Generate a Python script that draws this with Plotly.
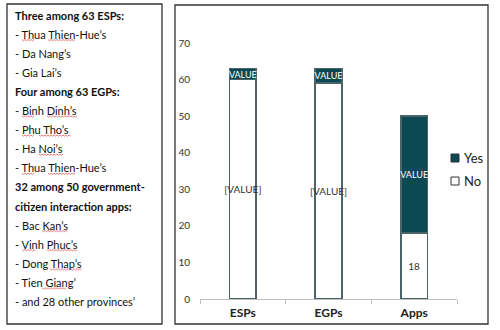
import plotly.graph_objects as go

# Data
categories = ["ESPs", "EGPs", "Apps"]
no_values = [60, 59, 18]
yes_values = [3, 4, 32]
no_labels = ["[VALUE]", "[VALUE]", "18"]
yes_labels = ["VALUE", "VALUE", "VALUE"]
y_ticks = [0, 10, 20, 30, 40, 50, 60, 70]
series_names = ["Yes", "No"]

side_lines = [
    ("Three among 63 ESPs:", True),
    ("- Thua Thien-Hue’s", False),
    ("- Da Nang’s", False),
    ("- Gia Lai’s", False),
    ("Four among 63 EGPs:", True),
    ("- Binh Dinh’s", False),
    ("- Phu Tho’s", False),
    ("- Ha Noi’s", False),
    ("- Thua Thien-Hue’s", False),
    ("32 among 50 government-", True),
    ("citizen interaction apps:", True),
    ("- Bac Kan’s", False),
    ("- Vinh Phuc’s", False),
    ("- Dong Thap’s", False),
    ("- Tien Giang’", False),
    ("- and 28 other provinces’", False),
]

# Spell-check style underlines: (line index, x start px, x end px)
squiggles = [
    (1, 22, 34), (1, 48, 76),
    (5, 22, 35), (5, 47, 77),
    (6, 22, 35), (6, 39, 71),
    (7, 39, 63),
    (8, 22, 34), (8, 48, 76),
    (11, 42, 68),
    (12, 22, 36), (12, 47, 78),
    (13, 50, 82),
    (14, 42, 67),
]

W, H = 500, 330
L, R, T, B = 200, 43, 43, 31
PW, PH = W - L - R, H - T - B

def px(x):
    return (x - L) / PW

def py(y):
    return (H - B - y) / PH

TEAL = "#0b4a54"
EDGE = "#4b6468"
FONT = "Lato, 'Open Sans', sans-serif"
LINE_Y0, LINE_DY = 15, 19.1

fig = go.Figure()
fig.add_trace(go.Bar(
    name="No", x=categories, y=no_values, text=no_labels,
    marker=dict(color="white", line=dict(color=EDGE, width=1.5)),
    textposition="inside", insidetextanchor="middle", textangle=0,
    constraintext="none",
    textfont=dict(color="#333333", size=10), width=0.31,
))
fig.add_trace(go.Bar(
    name="Yes", x=categories, y=yes_values, text=yes_labels,
    marker=dict(color=TEAL, line=dict(color=EDGE, width=1.5)),
    textposition="inside", insidetextanchor="middle", textangle=0,
    constraintext="none",
    textfont=dict(color="white", size=9), width=0.31,
))

fig.update_layout(
    width=W, height=H,
    margin=dict(l=L, r=R, t=T, b=B, autoexpand=False),
    barmode="stack",
    paper_bgcolor="white", plot_bgcolor="white",
    font=dict(family=FONT, color="#333333"),
    showlegend=False,
    xaxis=dict(range=[-0.5, 2.5], showline=True, linecolor="#bfbfbf", linewidth=1,
               ticks="outside", tickcolor="#bfbfbf", ticklen=4, tickson="boundaries",
               tickfont=dict(size=12, color="#222222"),
               tickprefix="<b>", ticksuffix="</b>", ticklabelstandoff=3,
               showgrid=False, zeroline=False),
    yaxis=dict(range=[0, 70], tickvals=y_ticks, showline=False, showgrid=False,
               zeroline=False, tickfont=dict(size=10, color="#333333"), ticks="",
               ticklabelstandoff=9),
)

# Framing boxes
fig.add_shape(type="rect", xref="paper", yref="paper",
              x0=px(7), x1=px(162), y0=py(4), y1=py(324),
              line=dict(color="#333333", width=1.3))
fig.add_shape(type="rect", xref="paper", yref="paper",
              x0=px(175), x1=px(488), y0=py(5), y1=py(324),
              line=dict(color="#333333", width=1.3))

# Legend (Yes above No)
legend_fill = {"Yes": TEAL, "No": "white"}
for k, name in enumerate(series_names):
    cy = 158 + k * 23
    fig.add_shape(type="rect", xref="paper", yref="paper",
                  x0=px(451), x1=px(459), y0=py(cy - 4), y1=py(cy + 4),
                  fillcolor=legend_fill[name], line=dict(color="#333333", width=1))
    fig.add_annotation(xref="paper", yref="paper", x=px(462), y=py(cy),
                       xanchor="left", yanchor="middle", showarrow=False,
                       text=name, font=dict(size=13, color="#222222", family=FONT))

# Side notes
for i, (txt, bold) in enumerate(side_lines):
    fig.add_annotation(
        xref="paper", yref="paper", x=px(13), y=py(LINE_Y0 + i * LINE_DY),
        xanchor="left", yanchor="middle", showarrow=False,
        text=f"<b>{txt}</b>" if bold else txt,
        font=dict(size=11, color="#111111", family=FONT),
    )

# Wavy red underlines beneath the place names
for i, x0, x1 in squiggles:
    yb = LINE_Y0 + i * LINE_DY + 6
    pts = []
    x = x0
    up = True
    while x <= x1:
        pts.append(f"{px(x)},{py(yb - 0.6 if up else yb + 0.6)}")
        x += 1.5
        up = not up
    fig.add_shape(type="path", xref="paper", yref="paper",
                  path="M " + " L ".join(pts),
                  line=dict(color="rgba(220,60,60,0.75)", width=0.9))

fig.write_html("out.html")
